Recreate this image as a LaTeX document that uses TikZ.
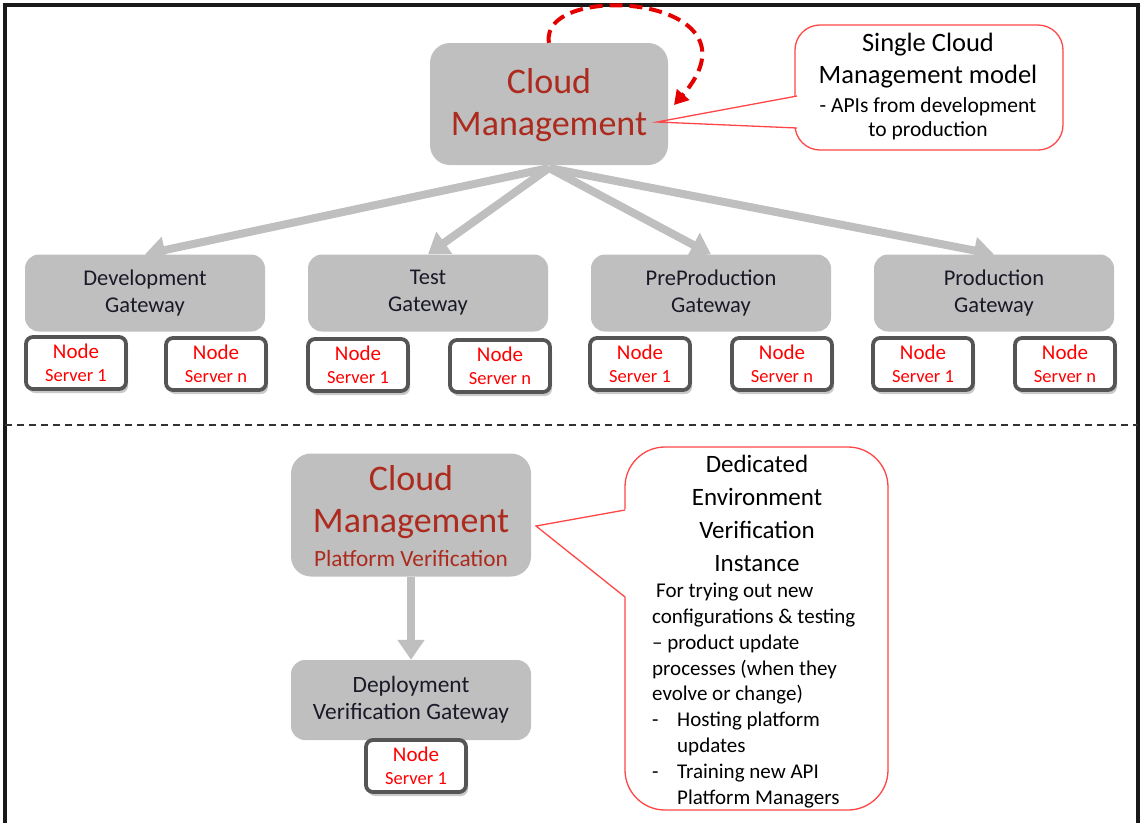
\documentclass[tikz,border=0pt]{standalone}
\usepackage{fontspec}
\setmainfont{Carlito}
\usetikzlibrary{arrows.meta,shadows}
\definecolor{boxgray}{RGB}{191,191,191}
\definecolor{cmred}{RGB}{172,42,30}
\definecolor{nodered}{RGB}{255,0,0}
\definecolor{callred}{RGB}{255,70,70}
\definecolor{gwtext}{RGB}{25,25,40}
\definecolor{nsborder}{RGB}{85,85,85}
\begin{document}
\begin{tikzpicture}[x=1pt,y=-1pt,
  graybox/.style={fill=boxgray, draw=none, inner sep=0pt},
  cmbox/.style={graybox, rounded corners=20pt, minimum width=238pt, minimum height=122pt},
  cmtext/.style={text=cmred, font=\fontsize{36}{42}\selectfont, align=center, inner sep=0pt},
  gwbox/.style={graybox, minimum width=240pt, minimum height=77pt, rounded corners=14pt, text=gwtext, align=center, font=\fontsize{22.5}{27}\selectfont},
  nsbox/.style={draw=nsborder, line width=3.8pt, fill=white, rounded corners=7pt, minimum width=100pt, minimum height=52pt, inner sep=0pt, align=center, text=nodered, font=\fontsize{18.5}{20}\selectfont, drop shadow={shadow xshift=2pt, shadow yshift=-4pt, opacity=0.3, fill=black!70}},
  grayarrow/.style={draw=boxgray, line width=8pt, -{Triangle[width=26pt,length=20pt,fill=boxgray]}},
  calltext/.style={text=black, align=center, inner sep=0pt},
  callline/.style={draw=callred, line width=1.3pt},
]
\useasboundingbox (0,0) rectangle (1141,823);
% frame
\draw[line width=4pt, black!90] (5,823) -- (5,5) -- (1138,5) -- (1138,823);
\draw[line width=1.5pt, dash pattern=on 7pt off 5pt, black!80] (5,425) -- (1138,425);

% ---------- top callout background ----------
\draw[callline, fill=white, rounded corners=25pt] (795,25) rectangle (1063,150);
\fill[white] (790,97.3) -- (799,95.8) -- (799,128.2) -- (790,127.7) -- cycle;

% ---------- top cloud management ----------
\node[cmbox] (cm) at (549,104) {};
\node[cmtext] (cmtitle) at (549,105) {Cloud\\Management};

\coordinate (tipA) at (657,122);
\coordinate (joinA1) at (797,96);
\coordinate (joinA2) at (797,128);
\draw[callline] (joinA1) -- (tipA) -- (joinA2);
\node[calltext, font=\fontsize{26.5}{32}\selectfont] (cmcalltitle) at (928,61) {Single Cloud\\Management model};
\node[calltext, font=\fontsize{21.5}{24}\selectfont] (cmcallsub) at (928,119) {- APIs from development\\to production};

% dashed loop
\coordinate (loopend) at (674,105);
\draw[draw=red!90!black, line width=4pt, dash pattern=on 13pt off 7pt, -{Triangle[width=16pt,length=14pt,fill=red!90!black]}]
  (cm.north) .. controls (538,-20) and (770,-5) .. (loopend);

% gateways
\node[gwbox] (dev)  at (145,293) {Development\\Gateway};
\node[gwbox] (test) at (428,293) {Test\\Gateway};
\node[gwbox] (pre)  at (711,293) {PreProduction\\Gateway};
\node[gwbox] (prod) at (994,293) {Production\\Gateway};

\coordinate (cmbot) at (549,168);
\draw[grayarrow] (cmbot) -- (dev.north);
\draw[grayarrow] (cmbot) -- (test.north);
\draw[grayarrow] (cmbot) -- (pre.north);
\draw[grayarrow] (cmbot) -- (prod.north);

% node servers
\newcommand{\nodetxt}[1]{{\fontsize{21}{22}\selectfont Node}\\[3pt]Server #1}
\node[nsbox] (dev1)  at (76,363)   {\nodetxt{1}};
\node[nsbox] (devn)  at (216,364)  {\nodetxt{n}};
\node[nsbox] (test1) at (358,365)  {\nodetxt{1}};
\node[nsbox] (testn) at (500,366)  {\nodetxt{n}};
\node[nsbox] (pre1)  at (640,364)  {\nodetxt{1}};
\node[nsbox] (pren)  at (782,364)  {\nodetxt{n}};
\node[nsbox] (prod1) at (923,364)  {\nodetxt{1}};
\node[nsbox] (prodn) at (1065,364) {\nodetxt{n}};

% ---------- bottom callout background ----------
\draw[callline, fill=white, rounded corners=40pt] (625,447) rectangle (888,810);
\fill[white] (618,511) -- (627,509) -- (627,598) -- (618,590) -- cycle;
\coordinate (tipB) at (536,526);
\coordinate (joinB1) at (625,510);
\coordinate (joinB2) at (625,597);
\draw[callline] (joinB1) -- (tipB) -- (joinB2);

\node[calltext, font=\fontsize{25}{33}\selectfont] (vcalltitle) at (757,513) {Dedicated\\Environment\\Verification\\Instance};
\node[inner sep=0pt, align=left, anchor=north west, font=\fontsize{21}{25.8}\selectfont] (vcallbody) at (652,583)
 {\hspace*{4pt}For trying out new\\
  configurations \& testing\\
  -- product update\\
  processes (when they\\
  evolve or change)\\
  \makebox[25pt][l]{-}Hosting platform\\
  \hspace*{25pt}updates\\
  \makebox[25pt][l]{-}Training new API\\
  \hspace*{25pt}Platform Managers};

% ---------- bottom cloud management ----------
\node[cmbox, minimum width=240pt, minimum height=123pt] (cmv) at (411,515) {};
\node[cmtext] (cmvtitle) at (411,502) {Cloud\\Management};
\node[text=cmred, font=\fontsize{23.3}{26}\selectfont, inner sep=0pt] (cmvsub) at (411,558) {Platform Verification};

\node[gwbox, minimum height=80pt, font=\fontsize{23.4}{27}\selectfont] (dvg) at (411,700) {Deployment\\Verification Gateway};
\draw[grayarrow] (cmv.south) -- (dvg.north);
\node[nsbox] (dvg1) at (416,766) {\nodetxt{1}};
\end{tikzpicture}
\end{document}
